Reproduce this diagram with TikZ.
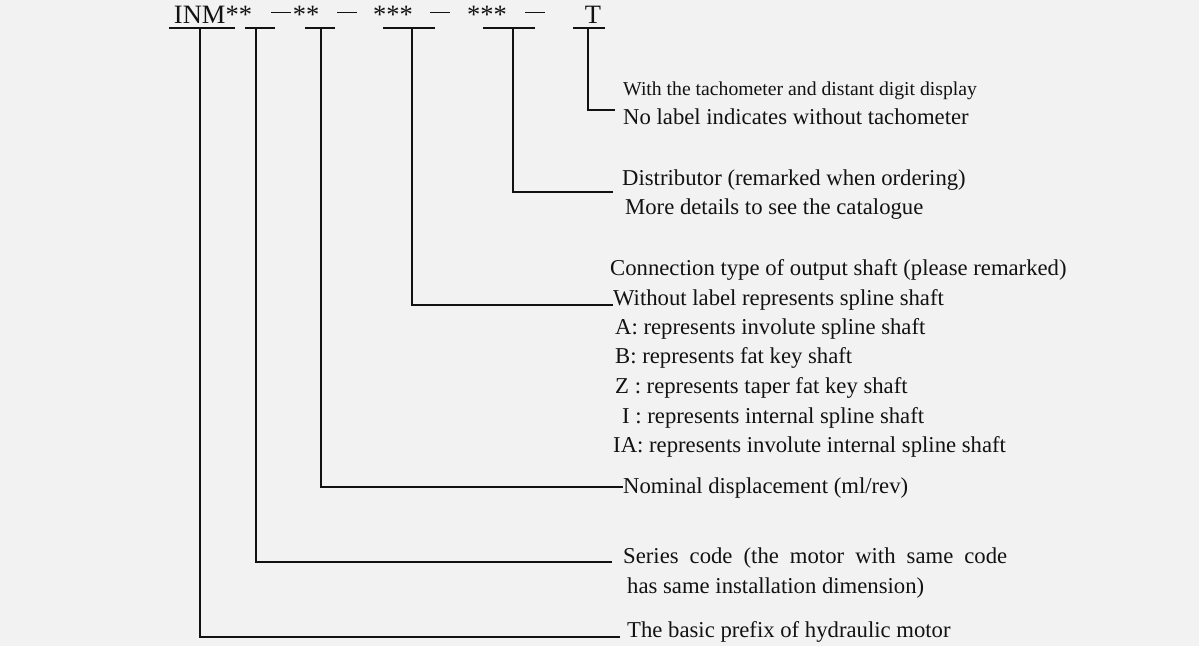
\documentclass[tikz,border=0pt]{standalone}
\usepackage{fontspec}
\setmainfont{Liberation Serif}
\definecolor{paper}{HTML}{F2F2F2}
\definecolor{ink}{HTML}{121212}
\tikzset{
  codepart/.style={inner sep=0pt, anchor=base, font=\fontsize{26.5}{30}\selectfont},
  note/.style={inner sep=0pt, anchor=base west, font=\fontsize{22.7}{29}\selectfont},
  smallnote/.style={inner sep=0pt, anchor=base west, font=\fontsize{19.7}{25}\selectfont},
  lead/.style={line width=1.4pt, ink}
}
\begin{document}
\begin{tikzpicture}[x=1pt, y=-1pt, text=ink]
      \fill[paper] (0,0) rectangle (1199,646);
      \useasboundingbox (0,0) rectangle (1199,646);
      % the model code
      \node[codepart] (prefix) at (213,23) {INM**};
      \node[codepart] (d1) at (281,23) {\rule[0.37em]{20pt}{1.4pt}};
      \node[codepart] (series) at (306,23) {**};
      \node[codepart] (d2) at (347,23) {\rule[0.37em]{20pt}{1.4pt}};
      \node[codepart] (disp) at (393,23) {***};
      \node[codepart] (d3) at (440,23) {\rule[0.37em]{20pt}{1.4pt}};
      \node[codepart] (dist) at (487,23) {***};
      \node[codepart] (d4) at (535,23) {\rule[0.37em]{20pt}{1.4pt}};
      \node[codepart] (tacho) at (593,23) {T};
      % underlines
      \draw[lead] (169,28) -- (235,28);
      \draw[lead] (245,28) -- (275,28);
      \draw[lead] (305,28) -- (335,28);
      \draw[lead] (383,28) -- (435,28);
      \draw[lead] (483,28) -- (535,28);
      \draw[lead] (573,28) -- (605,28);
      \coordinate (u1) at (200,28);
      \coordinate (u2) at (256,28);
      \coordinate (u3) at (321,28);
      \coordinate (u4) at (412,28);
      \coordinate (u5) at (513,28);
      \coordinate (u6) at (588,28);
      % explanations
      \node[smallnote] (t1) at (623,95) {With the tachometer and distant digit display};
      \node[note] (t2) at (623,124) {No label indicates without tachometer};
      \node[note] (s1) at (622,185) {Distributor (remarked when ordering)};
      \node[note] (s2) at (625,214) {More details to see the catalogue};
      \node[note] (c1) at (610,275) {Connection type of output shaft (please remarked)};
      \node[note] (c2) at (613,305) {Without label represents spline shaft};
      \node[note] (c3) at (615,334) {A: represents involute spline shaft};
      \node[note] (c4) at (615,363) {B: represents fat key shaft};
      \node[note] (c5) at (615,393) {Z : represents taper fat key shaft};
      \node[note] (c6) at (622,423) {I : represents internal spline shaft};
      \node[note] (c7) at (613,452) {IA: represents involute internal spline shaft};
      \node[note] (n1) at (623,493) {Nominal displacement (ml/rev)};
      \node[note] (r1) at (623,563) {\makebox[384pt][s]{Series code (the motor with same code}};
      \node[note] (r2) at (627,593) {has same installation dimension)};
      \node[note] (b1) at (627,637) {The basic prefix of hydraulic motor};
      % leaders
      \coordinate (e6) at (615,110);
      \coordinate (e5) at (613,192);
      \coordinate (e4) at (613,305);
      \coordinate (e3) at (623,487);
      \coordinate (e2) at (612,562);
      \coordinate (e1) at (620,637);
      \begin{scope}[lead]
        \draw (u6) |- (e6);
        \draw (u5) |- (e5);
        \draw (u4) |- (e4);
        \draw (u3) |- (e3);
        \draw (u2) |- (e2);
        \draw (u1) |- (e1);
      \end{scope}
    \end{tikzpicture}
\end{document}
